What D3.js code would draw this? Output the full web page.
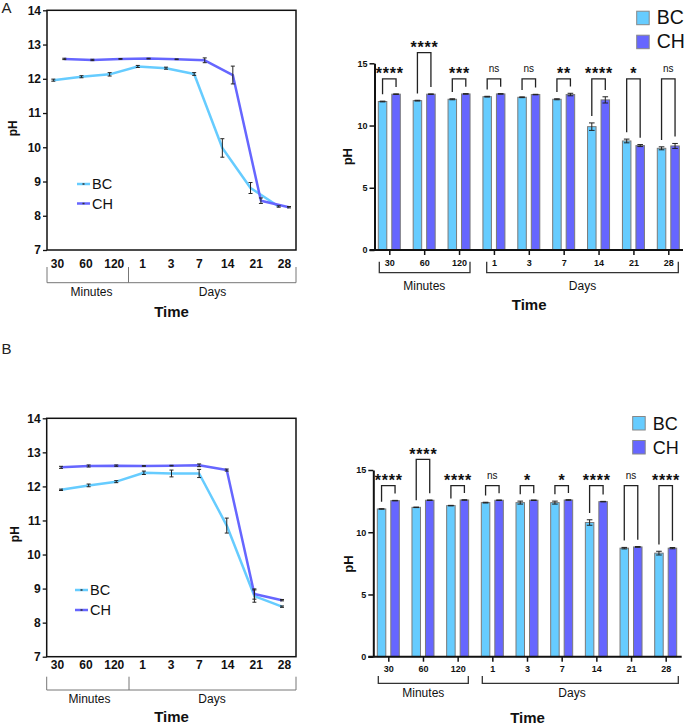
<!DOCTYPE html>
<html>
<head>
<meta charset="utf-8">
<script src="https://cdn.jsdelivr.net/npm/d3@7"></script>
<style>
  body { margin: 0; background: #fff; }
  svg { font-family: "Liberation Sans", Arial, Helvetica, sans-serif; }
</style>
</head>
<body>
<svg id="fig" width="685" height="724"></svg>
<script>
var times = ["30", "60", "120", "1", "3", "7", "14", "21", "28"];
var series = ["BC", "CH"];
var colors = { BC: "#66ccff", CH: "#6666ff" };

// panel A, line chart
var lineA_BC = [11.96, 12.06, 12.13, 12.36, 12.31, 12.14, 9.98, 8.81, 8.27];
var lineA_BC_sd = [0.03, 0.03, 0.05, 0.03, 0.03, 0.04, 0.27, 0.16, 0.02];
var lineA_CH = [12.58, 12.55, 12.58, 12.59, 12.57, 12.54, 12.11, 8.44, 8.25];
var lineA_CH_sd = [0.02, 0.02, 0.01, 0.01, 0.01, 0.07, 0.26, 0.08, 0.02];
// panel A, bar chart
var barA_BC = [11.93, 12.0, 12.11, 12.32, 12.27, 12.11, 9.91, 8.76, 8.17];
var barA_BC_sd = [0.03, 0.03, 0.04, 0.03, 0.03, 0.04, 0.3, 0.15, 0.12];
var barA_CH = [12.52, 12.52, 12.54, 12.54, 12.49, 12.49, 12.06, 8.39, 8.36];
var barA_CH_sd = [0.02, 0.02, 0.02, 0.02, 0.02, 0.1, 0.25, 0.08, 0.2];
var sigA = ["****", "****", "***", "ns", "ns", "**", "****", "*", "ns"];

// panel B, line chart
var lineB_BC = [11.9, 12.03, 12.14, 12.4, 12.38, 12.38, 10.85, 8.78, 8.47];
var lineB_BC_sd = [0.02, 0.04, 0.03, 0.05, 0.1, 0.12, 0.22, 0.18, 0.02];
var lineB_CH = [12.56, 12.6, 12.61, 12.6, 12.61, 12.62, 12.48, 8.84, 8.66];
var lineB_CH_sd = [0.03, 0.03, 0.02, 0.01, 0.01, 0.04, 0.03, 0.15, 0.02];
// panel B, bar chart
var barB_BC = [11.87, 12.0, 12.14, 12.38, 12.38, 12.38, 10.78, 8.72, 8.32];
var barB_BC_sd = [0.02, 0.02, 0.02, 0.03, 0.12, 0.12, 0.22, 0.06, 0.15];
var barB_CH = [12.54, 12.57, 12.59, 12.57, 12.57, 12.59, 12.46, 8.82, 8.72];
var barB_CH_sd = [0.02, 0.02, 0.02, 0.02, 0.02, 0.02, 0.02, 0.03, 0.05];
var sigB = ["****", "****", "****", "ns", "*", "*", "****", "ns", "****"];

// bracket tier (1 = raised comparison)
var sigTier = [0, 1, 0, 0, 0, 0, 0, 0, 0];
var sigLevels = [13.75, 15.85];

var svg = d3.select("#fig");

function drawLine(cfg) {
  var g = svg.append("g");
  var y = d3.scaleLinear().domain([7, 14]).range([cfg.bottom, cfg.top]);
  var xLab = d3.scalePoint().domain(times).range(cfg.labelRange);

  g.append("rect")
    .attr("x", cfg.left).attr("y", cfg.top)
    .attr("width", cfg.right - cfg.left).attr("height", cfg.bottom - cfg.top)
    .attr("fill", "none").attr("stroke", "#111").attr("stroke-width", 1.5);

  var ya = g.append("g").attr("transform", "translate(" + cfg.left + ",0)")
    .call(d3.axisLeft(y).ticks(7).tickSize(4).tickPadding(2).tickFormat(d3.format("d")));
  ya.select(".domain").remove();
  ya.selectAll("line").attr("stroke", "#111").attr("stroke-width", 1.3);
  ya.selectAll("text").attr("font-size", 12).attr("font-weight", "bold").attr("fill", "#111")
    .attr("font-family", null);

  var xa = g.append("g").attr("transform", "translate(0," + cfg.bottom + ")")
    .call(d3.axisBottom(xLab).tickSize(0).tickPadding(cfg.xPad));
  xa.select(".domain").remove();
  xa.selectAll("text").attr("font-size", 12).attr("font-weight", "bold").attr("fill", "#111")
    .attr("font-family", null);

  // lines
  cfg.series.forEach(function(s) {
    var xs = d3.scalePoint().domain(times).range(s.range);
    var line = d3.line()
      .x(function(d, i) { return xs(times[i]); })
      .y(function(d) { return y(d); });
    g.append("path").datum(s.mean)
      .attr("d", line).attr("fill", "none")
      .attr("stroke", colors[s.name]).attr("stroke-width", 2.5)
      .attr("stroke-linejoin", "round");
  });
  // error bars on top
  cfg.series.forEach(function(s) {
    var xs = d3.scalePoint().domain(times).range(s.range);
    var eb = g.append("g").selectAll("g").data(s.mean).enter().append("g")
      .attr("stroke", "#222").attr("stroke-width", 1);
    eb.append("line")
      .attr("x1", function(d, i) { return xs(times[i]); })
      .attr("x2", function(d, i) { return xs(times[i]); })
      .attr("y1", function(d, i) { return y(d - s.sd[i]); })
      .attr("y2", function(d, i) { return y(d + s.sd[i]); });
    [-1, 1].forEach(function(k) {
      eb.append("line")
        .attr("x1", function(d, i) { return xs(times[i]) - 2; })
        .attr("x2", function(d, i) { return xs(times[i]) + 2; })
        .attr("y1", function(d, i) { return y(d + k * s.sd[i]); })
        .attr("y2", function(d, i) { return y(d + k * s.sd[i]); });
    });
  });

  // legend
  cfg.series.forEach(function(s, i) {
    var ly = cfg.legendY[i];
    g.append("line").attr("x1", cfg.legendX).attr("x2", cfg.legendX + 13)
      .attr("y1", ly).attr("y2", ly)
      .attr("stroke", colors[s.name]).attr("stroke-width", 2.5);
    g.append("rect").attr("x", cfg.legendX + 5.5).attr("y", ly - 0.75)
      .attr("width", 2).attr("height", 1.5).attr("fill", "#333");
    g.append("text").attr("x", cfg.legendX + 15).attr("y", ly + 5.3)
      .attr("font-size", 14.5).attr("fill", "#111").text(s.name);
  });

  // time group brackets
  var gb = g.append("g").attr("fill", "none").attr("stroke", "#777").attr("stroke-width", 1);
  gb.append("path").attr("d",
    "M" + cfg.left + "," + cfg.brTop + "V" + cfg.brBot + "H" + cfg.right + "V" + cfg.brTop +
    "M" + cfg.split + "," + cfg.brTop + "V" + cfg.brBot);
  g.append("text").attr("x", cfg.minutesX).attr("y", cfg.groupY).attr("text-anchor", "middle")
    .attr("font-size", 12).attr("fill", "#111").text("Minutes");
  g.append("text").attr("x", cfg.daysX).attr("y", cfg.groupY).attr("text-anchor", "middle")
    .attr("font-size", 12).attr("fill", "#111").text("Days");
  g.append("text").attr("x", cfg.timeX).attr("y", cfg.timeY).attr("text-anchor", "middle")
    .attr("font-size", 15).attr("font-weight", "bold").attr("fill", "#111").text("Time");
  g.append("text").attr("transform", "translate(" + cfg.phX + "," + cfg.phY + ") rotate(-90)")
    .attr("text-anchor", "middle").attr("font-size", 12).attr("font-weight", "bold")
    .attr("fill", "#111").text("pH");
  g.append("text").attr("x", 1.5).attr("y", cfg.letterY).attr("font-size", 15)
    .attr("fill", "#222").text(cfg.letter);
}

function drawBars(cfg) {
  var g = svg.append("g");
  var y = d3.scaleLinear().domain([0, 15]).range([cfg.y0, cfg.y15]);
  var xc = d3.scalePoint().domain(times).range(cfg.cRange);
  var x1 = d3.scaleBand().domain(series).range([-11, 11]).paddingInner(0.37);
  var bw = x1.bandwidth();

  series.forEach(function(s) {
    var mean = cfg.mean[s], sd = cfg.sd[s];
    g.append("g").selectAll("rect").data(mean).enter().append("rect")
      .attr("x", function(d, i) { return xc(times[i]) + x1(s); })
      .attr("y", function(d) { return y(d); })
      .attr("width", bw)
      .attr("height", function(d) { return cfg.y0 - y(d); })
      .attr("fill", colors[s]).attr("stroke", "#7a7a7a").attr("stroke-width", 1);
    var eb = g.append("g").selectAll("g").data(mean).enter().append("g")
      .attr("stroke", "#222").attr("stroke-width", 1);
    var cx = function(d, i) { return xc(times[i]) + x1(s) + bw / 2; };
    eb.append("line").attr("x1", cx).attr("x2", cx)
      .attr("y1", function(d, i) { return y(d - sd[i]); })
      .attr("y2", function(d, i) { return y(d + sd[i]); });
    [-1, 1].forEach(function(k) {
      eb.append("line")
        .attr("x1", function(d, i) { return cx(d, i) - 2.8; })
        .attr("x2", function(d, i) { return cx(d, i) + 2.8; })
        .attr("y1", function(d, i) { return y(d + k * sd[i]); })
        .attr("y2", function(d, i) { return y(d + k * sd[i]); });
    });
  });

  // y axis
  var ya = g.append("g").attr("transform", "translate(" + cfg.axisX + ",0)")
    .call(d3.axisLeft(y).tickValues([0, 5, 10, 15]).tickSize(5).tickSizeOuter(0).tickPadding(2));
  ya.select(".domain").attr("stroke", "#111").attr("stroke-width", 2);
  ya.selectAll(".tick line").attr("stroke", "#111").attr("stroke-width", 1.5);
  ya.selectAll("text").attr("font-size", 9).attr("font-weight", "bold").attr("fill", "#111")
    .attr("font-family", null);

  // x axis
  var xa = g.append("g").attr("transform", "translate(0," + cfg.y0 + ")")
    .call(d3.axisBottom(xc).tickSize(5).tickSizeOuter(0).tickPadding(cfg.xPad));
  xa.select(".domain").remove();
  xa.selectAll(".tick line").attr("stroke", "#111").attr("stroke-width", 1.5);
  xa.selectAll("text").attr("font-size", 9).attr("font-weight", "bold").attr("fill", "#111")
    .attr("font-family", null);
  g.append("line").attr("x1", cfg.axisX - 5).attr("x2", cfg.xEnd)
    .attr("y1", cfg.y0).attr("y2", cfg.y0).attr("stroke", "#111").attr("stroke-width", 2);

  // significance brackets
  var sg = g.append("g");
  cfg.sig.forEach(function(lab, i) {
    var c = xc(times[i]);
    var xl = c + x1("BC") + bw / 2, xr = c + x1("CH") + bw / 2;
    var hy = y(sigLevels[sigTier[i]]);
    var yl = y(cfg.mean.BC[i] + cfg.sd.BC[i] + 0.55);
    var yr = y(cfg.mean.CH[i] + cfg.sd.CH[i] + 0.55);
    sg.append("path").attr("d", "M" + xl + "," + yl + "V" + hy + "H" + xr + "V" + yr)
      .attr("fill", "none").attr("stroke", "#222").attr("stroke-width", 1.3);
    var t = sg.append("text").attr("x", (xl + xr) / 2).attr("text-anchor", "middle").attr("fill", "#111");
    if (lab === "ns") {
      t.attr("y", hy - 6.5).attr("font-size", 10).text(lab);
    } else {
      t.attr("y", hy + 0.5).attr("font-size", 16).attr("font-weight", "bold")
        .attr("letter-spacing", 0.8).attr("dx", 0.4).text(lab);
    }
  });

  // time group brackets
  var gb = g.append("g").attr("fill", "none").attr("stroke", "#333").attr("stroke-width", 1.3);
  cfg.groups.forEach(function(gr) {
    gb.append("path").attr("d", "M" + gr.x0 + "," + cfg.brTop + "V" + cfg.brBot + "H" + gr.x1 + "V" + cfg.brTop);
    g.append("text").attr("x", gr.lx).attr("y", cfg.groupY).attr("text-anchor", "middle")
      .attr("font-size", 12).attr("fill", "#111").text(gr.name);
  });
  g.append("text").attr("x", cfg.timeX).attr("y", cfg.timeY).attr("text-anchor", "middle")
    .attr("font-size", 15).attr("font-weight", "bold").attr("fill", "#111").text("Time");
  g.append("text").attr("transform", "translate(" + cfg.phX + "," + cfg.phY + ") rotate(-90)")
    .attr("text-anchor", "middle").attr("font-size", 13).attr("font-weight", "bold")
    .attr("fill", "#111").text("pH");

  // legend
  series.forEach(function(s, i) {
    g.append("rect").attr("x", cfg.legX).attr("y", cfg.legY[i] - 13)
      .attr("width", 12.5).attr("height", 13.5)
      .attr("fill", colors[s]).attr("stroke", "#888").attr("stroke-width", 1);
    g.append("text").attr("x", cfg.legX + 20).attr("y", cfg.legY[i])
      .attr("font-size", cfg.legFont).attr("fill", "#111").text(s);
  });
}

drawLine({
  letter: "A", letterY: 13.3,
  left: 47, right: 296, top: 10.3, bottom: 250,
  labelRange: [57, 284], xPad: 9.5,
  series: [
    { name: "BC", mean: lineA_BC, sd: lineA_BC_sd, range: [53.3, 278.7] },
    { name: "CH", mean: lineA_CH, sd: lineA_CH_sd, range: [64.3, 289] }
  ],
  legendX: 77, legendY: [184, 203.5],
  brTop: 267, brBot: 282.7, split: 128.5,
  minutesX: 91.5, daysX: 212.5, groupY: 296,
  timeX: 171.5, timeY: 316.7, phX: 17, phY: 128.3
});

drawLine({
  letter: "B", letterY: 354.3,
  left: 46.7, right: 296, top: 418.3, bottom: 656.7,
  labelRange: [57, 284], xPad: 3.5,
  series: [
    { name: "BC", mean: lineB_BC, sd: lineB_BC_sd, range: [61, 282] },
    { name: "CH", mean: lineB_CH, sd: lineB_CH_sd, range: [61, 282] }
  ],
  legendX: 75, legendY: [590, 610],
  brTop: 676.7, brBot: 690, split: 129,
  minutesX: 89.5, daysX: 212, groupY: 703.3,
  timeX: 171.5, timeY: 721.7, phX: 18.5, phY: 534.2
});

drawBars({
  y0: 250, y15: 63.3, axisX: 374.5, cRange: [389.3, 668.3], xEnd: 683, xPad: 4.5,
  mean: { BC: barA_BC, CH: barA_CH }, sd: { BC: barA_BC_sd, CH: barA_CH_sd },
  sig: sigA,
  brTop: 261.7, brBot: 272.7,
  groups: [
    { name: "Minutes", x0: 379.3, x1: 470, lx: 424.3 },
    { name: "Days", x0: 486.7, x1: 678.3, lx: 582.5 }
  ],
  groupY: 290, timeX: 529.2, timeY: 310, phX: 352, phY: 156.7,
  legX: 636.7, legY: [24.2, 48.2], legFont: 19.5
});

drawBars({
  y0: 656.7, y15: 470, axisX: 373.3, cRange: [388.3, 665.7], xEnd: 681.7, xPad: 3.8,
  mean: { BC: barB_BC, CH: barB_CH }, sd: { BC: barB_BC_sd, CH: barB_CH_sd },
  sig: sigB,
  brTop: 676, brBot: 683.3,
  groups: [
    { name: "Minutes", x0: 378.3, x1: 468.3, lx: 423.3 },
    { name: "Days", x0: 482.3, x1: 678.3, lx: 572 }
  ],
  groupY: 697, timeX: 527.5, timeY: 722.5, phX: 352.6, phY: 564,
  legX: 632.7, legY: [429.5, 453.5], legFont: 18
});
</script>
</body>
</html>
